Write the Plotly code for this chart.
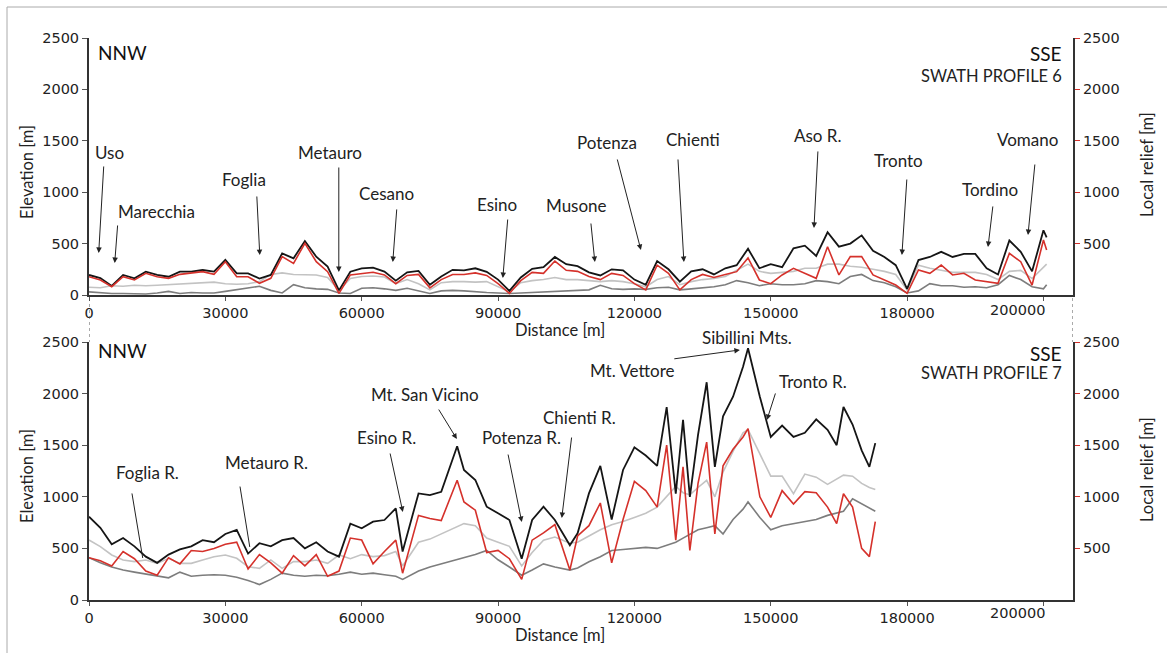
import plotly.graph_objects as go

# ---------------- Swath profile 6 (upper panel) ----------------
dist6 = [0, 2500, 5000, 7500, 10000, 12500, 15000, 17500, 20000, 22500,
         25000, 27500, 30000, 32500, 35000, 37500, 40000, 42500, 45000, 47500,
         50000, 52500, 55000, 57500, 60000, 62500, 65000, 67500, 70000,
         72500, 75000, 77500, 80000, 82500, 85000, 87500, 90000, 92500, 95000,
         97500, 100000, 102500, 105000, 107500, 110000, 112500, 115000, 117500, 120000,
         122500, 125000, 127500, 130000, 132500, 135000, 137500, 140000,
         142500, 145000, 147500, 150000, 152500, 155000, 157500, 160000, 162500, 165000,
         167500, 170000, 172500, 175000, 177500, 180000, 182500, 185000, 187500, 190000,
         192500, 195000, 197500, 200000, 202500, 205000, 207500, 210000, 210700]
max6 = [195, 165, 88, 195, 162, 227, 195, 178, 227, 227,
        243, 227, 341, 211, 211, 160, 195, 405, 357, 525,
        373, 276, 45, 227, 259, 266, 227, 140, 220,
        235, 100, 180, 245, 240, 260, 225, 150, 40, 170,
        255, 270, 370, 300, 280, 220, 190, 250, 240, 150,
        100, 330, 250, 130, 230, 250, 200, 260,
        290, 450, 260, 300, 270, 454, 480, 380, 610, 470,
        500, 580, 430, 370, 290, 60, 340, 370, 420, 370,
        400, 400, 260, 200, 530, 420, 230, 630, 560]
relief6 = [178, 146, 81, 178, 146, 211, 178, 162, 201, 211,
           227, 201, 324, 178, 178, 114, 162, 373, 308, 503,
           324, 227, 16, 195, 211, 221, 195, 110, 190,
           200, 70, 150, 200, 200, 215, 190, 110, 15, 140,
           220, 210, 330, 240, 230, 180, 150, 210, 190, 110,
           50, 290, 210, 50, 150, 200, 170, 200,
           227, 360, 146, 110, 195, 259, 211, 162, 470, 195,
           373, 373, 195, 146, 97, 16, 243, 211, 292, 195,
           211, 146, 130, 114, 405, 324, 97, 535, 438]
mean6 = [75, 70, 90, 85, 95, 90, 95, 100, 110, 115,
         120, 125, 110, 105, 110, 130, 200, 215, 200, 195,
         195, 170, 45, 160, 180, 185, 175, 110, 150,
         110, 50, 120, 130, 130, 125, 130, 80, 30, 120,
         140, 150, 170, 150, 150, 140, 130, 140, 130, 110,
         80, 150, 180, 100, 130, 150, 160, 180,
         240, 300, 230, 210, 220, 230, 260, 260, 300, 300,
         280, 270, 250, 230, 200, 50, 290, 260, 240, 220,
         220, 220, 200, 150, 230, 240, 160, 270, 300]
min6 = [30, 20, 15, 15, 10, 10, 20, 35, 15, 25,
        20, 20, 35, 50, 70, 85, 45, 20, 100, 70,
        60, 55, 20, 15, 65, 70, 60, 45, 65,
        40, 15, 40, 45, 40, 30, 25, 20, 15, 20,
        25, 30, 30, 35, 45, 50, 95, 60, 55, 60,
        55, 70, 75, 50, 60, 70, 80, 100,
        140, 120, 90, 110, 100, 100, 110, 140, 130, 110,
        180, 200, 140, 120, 80, 20, 40, 110, 90, 90,
        75, 80, 70, 100, 190, 150, 80, 60, 100]

# ---------------- Swath profile 7 (lower panel) ----------------
dist7 = [0, 2500, 5000, 7500, 10000, 12500, 15000, 17500, 20000, 22500,
         25000, 27500, 30000, 32500, 35000, 37500, 40000, 42500, 45000, 47500,
         50000, 52500, 55000, 57500, 60000, 62500, 65000, 67500,
         69000, 72500, 75000, 77500, 81000, 82500, 85000, 87500, 90000, 92500,
         95200, 97500, 100000, 102500, 105800, 107500, 110000, 112500,
         115000, 117500, 120000, 122500, 125000, 127100, 129100, 130700, 132200,
         134000, 135900, 137700, 139500, 141700, 143900, 145000, 147600,
         150000, 152500, 155000, 157500, 160000, 162500, 164500, 166000,
         168000, 170000, 171700, 173000]
max7 = [807, 700, 540, 600, 520, 420, 360, 440, 490, 520,
        580, 560, 640, 680, 450, 550, 520, 580, 600, 500,
        560, 470, 420, 740, 695, 759, 775, 888,
        470, 1033, 1017, 1049, 1490, 1260, 1163, 904, 840, 775,
        400, 775, 904, 775, 530, 646, 1033, 1300,
        780, 1260, 1480, 1400, 1300, 1870, 1030, 1745, 1000,
        1600, 2110, 1290, 1780, 1970, 2260, 2440, 1970,
        1580, 1690, 1580, 1620, 1750, 1650, 1500, 1870,
        1700, 1450, 1290, 1520]
relief7 = [410, 380, 330, 470, 400, 280, 240, 410, 350, 480,
           470, 500, 540, 560, 300, 440, 360, 260, 430, 330,
           440, 230, 280, 600, 581, 350, 470, 580,
           260, 820, 790, 770, 1160, 950, 870, 460, 480, 400,
           200, 580, 650, 730, 290, 620, 720, 940,
           360, 780, 1150, 1060, 900, 1500, 580, 1290, 480,
           1130, 1530, 640, 1300, 1460, 1580, 1660, 1000,
           800, 1060, 930, 1050, 1040, 900, 740, 1030,
           900, 500, 420, 760]
mean7 = [581, 517, 436, 388, 372, 388, 355, 404, 355, 355,
         388, 420, 436, 404, 323, 307, 388, 307, 372, 372,
         388, 355, 436, 400, 440, 420, 430, 470,
         330, 560, 590, 640, 710, 740, 720, 600, 560, 520,
         330, 460, 580, 610, 550, 560, 620, 680,
         730, 760, 800, 840, 900, 1000, 1100, 1040, 1020,
         1090, 1160, 1000, 1240, 1440, 1620, 1650, 1420,
         1200, 1200, 1030, 1220, 1190, 1120, 1170, 1210,
         1200, 1130, 1090, 1070]
min7 = [410, 360, 320, 290, 270, 250, 230, 215, 270, 230,
        240, 245, 240, 220, 190, 150, 200, 260, 240, 230,
        240, 235, 250, 270, 250, 260, 245, 230,
        200, 280, 320, 350, 390, 410, 440, 480, 390, 320,
        240, 290, 350, 320, 290, 310, 370, 420,
        480, 490, 500, 510, 500, 530, 560, 600, 640,
        680, 700, 720, 640, 780, 880, 950, 800,
        680, 720, 740, 760, 780, 820, 840, 860,
        980, 930, 890, 860]

# ---------------- Axis ticks ----------------
x_tick_vals = [0, 30000, 60000, 90000, 120000, 150000, 180000, 210000]
x_tick_text = ["0", "30000", "60000", "90000", "120000", "150000", "180000", ""]
end_tick_label = "200000"
end_tick_label_x = 204300
elev_ticks = [0, 500, 1000, 1500, 2000, 2500]
relief_ticks = [500, 1000, 1500, 2000, 2500]
x_max = 216500
y_max = 2500

# ---------------- Place names: (text, x_text, y_text, x_tail, y_tail, x_tip, y_tip, head) ----------------
names6 = [
    ("Uso", 4556, 1382, 3257, 1265, 2135, 409, 2),
    ("Marecchia", 14900, 817, 6317, 691, 5656, 311, 2),
    ("Foglia", 34050, 1119, 36910, 973, 37570, 389, 2),
    ("Metauro", 52980, 1391, 54960, 1255, 54960, 224, 2),
    ("Cesano", 65520, 983, 67730, 847, 66840, 321, 2),
    ("Esino", 89740, 885, 92150, 749, 91050, 165, 2),
    ("Musone", 107300, 866, 110400, 710, 111300, 321, 2),
    ("Potenza", 113950, 1479, 116150, 1333, 121430, 438, 2),
    ("Chienti", 132870, 1508, 129570, 1333, 130890, 321, 2),
    ("Aso R.", 160390, 1547, 160390, 1411, 159510, 652, 2),
    ("Tronto", 178200, 1304, 179960, 1138, 178860, 389, 2),
    ("Tordino", 198240, 1031, 198900, 876, 197800, 467, 2),
    ("Vomano", 206380, 1508, 208140, 1284, 206600, 584, 2),
]
names7 = [
    ("Foglia R.", 12920, 1240, 9400, 1047, 11820, 407, 0),
    ("Metauro R.", 39110, 1337, 33170, 1114, 35370, 514, 0),
    ("Esino R.", 65520, 1570, 66180, 1434, 69050, 853, 2),
    ("Mt. San Vicino", 73890, 1996, 76750, 1860, 80930, 1560, 2),
    ("Potenza R.", 95220, 1570, 92140, 1424, 95220, 756, 2),
    ("Chienti R.", 107980, 1764, 106220, 1589, 104020, 795, 2),
    ("Mt. Vettore", 119650, 2219, 128450, 2335, 143200, 2423, 2),
    ("Tronto R.", 159270, 2122, 151130, 2016, 149150, 1744, 2),
]
# label that sits above the top of the lower panel
peak_name = "Sibillini Mts."
peak_name_x = 144750

BLACK = "#151515"
RED = "#d5312b"
LIGHT = "#c3c3c3"
DARK = "#7d7d7d"
AXIS = "#333333"
TEXT = "#222222"
LABEL_FONT = dict(family="Lato", size=17, color=TEXT)
TICK_FONT = dict(family="DejaVu Sans", size=14.5, color=TEXT)

W, H = 1167, 653
x_dom = [89 / W, 1073 / W]
top_dom = [1 - 295 / H, 1 - 38 / H]
bot_dom = [1 - 600 / H, 1 - 342 / H]

fig = go.Figure()


def add_profile(xa, ya, yr, dist, mn, mean, mx, rel):
    fig.add_trace(go.Scatter(x=dist, y=mn, xaxis=xa, yaxis=ya, mode="lines",
                             line=dict(color=DARK, width=1.6), name="min"))
    fig.add_trace(go.Scatter(x=dist, y=mean, xaxis=xa, yaxis=ya, mode="lines",
                             line=dict(color=LIGHT, width=1.6), name="mean"))
    fig.add_trace(go.Scatter(x=dist, y=mx, xaxis=xa, yaxis=ya, mode="lines",
                             line=dict(color=BLACK, width=1.8), name="max"))
    fig.add_trace(go.Scatter(x=dist, y=rel, xaxis=xa, yaxis=yr, mode="lines",
                             line=dict(color=RED, width=1.6), name="relief"))


add_profile("x", "y", "y3", dist6, min6, mean6, max6, relief6)
add_profile("x2", "y2", "y4", dist7, min7, mean7, max7, relief7)


def x_axis(anchor):
    return dict(domain=x_dom, anchor=anchor, range=[0, x_max], showline=True,
                linecolor=AXIS, linewidth=2, ticks="outside", ticklen=4,
                tickcolor="#555", tickwidth=1, tickvals=x_tick_vals,
                ticktext=x_tick_text, tickfont=TICK_FONT, showgrid=False,
                zeroline=False, automargin=False)


def elev_axis(dom, anchor):
    return dict(domain=dom, anchor=anchor, range=[0, y_max], showline=True,
                linecolor=AXIS, linewidth=2, ticks="outside", ticklen=5,
                tickcolor="#555", tickwidth=1, tickvals=elev_ticks,
                tickfont=TICK_FONT, showgrid=False, zeroline=False,
                automargin=False)


def relief_axis(over, anchor):
    return dict(overlaying=over, anchor=anchor, side="right", range=[0, y_max],
                showline=True, linecolor=AXIS, linewidth=2, ticks="outside",
                ticklen=5, tickcolor=RED, tickwidth=1, tickvals=relief_ticks,
                tickfont=TICK_FONT, showgrid=False, zeroline=False,
                automargin=False)


fig.update_layout(
    autosize=True, margin=dict(l=0, r=0, t=0, b=0),
    paper_bgcolor="white", plot_bgcolor="white", showlegend=False,
    xaxis=x_axis("y"), yaxis=elev_axis(top_dom, "x"), yaxis3=relief_axis("y", "x"),
    xaxis2=x_axis("y2"), yaxis2=elev_axis(bot_dom, "x2"), yaxis4=relief_axis("y2", "x2"),
)


def text_at(x, y, xref, yref, text, font, xanchor="center", angle=0):
    fig.add_annotation(x=x, y=y, xref=xref, yref=yref, text=text, showarrow=False,
                       font=font, xanchor=xanchor, yanchor="middle",
                       textangle=angle)


def add_names(names, xref, yref):
    for text, xt, yt, xa, ya, xb, yb, head in names:
        text_at(xt, yt, xref, yref, text, LABEL_FONT)
        fig.add_annotation(x=xb, y=yb, ax=xa, ay=ya, xref=xref, yref=yref,
                           axref=xref, ayref=yref, text="", showarrow=True,
                           arrowhead=head, arrowsize=1.1, arrowwidth=1,
                           arrowcolor=TEXT, standoff=0)


add_names(names6, "x", "y")
add_names(names7, "x2", "y2")
text_at(peak_name_x, 1 - 337 / H, "x2", "paper", peak_name, LABEL_FONT)

# direction / profile titles
HEAD_FONT = dict(family="Lato", size=19, color="#111")
SUB_FONT = dict(family="Lato", size=16.5, color=TEXT)
for xr, yr, nnw_y, sse_y, sub_y, sub in [("x", "y", 2355, 2345, 2131, "SWATH PROFILE 6"),
                                        ("x2", "y2", 2413, 2393, 2200, "SWATH PROFILE 7")]:
    text_at(1500, nnw_y, xr, yr, "NNW", HEAD_FONT, xanchor="left")
    text_at(214600, sse_y, xr, yr, "SSE", HEAD_FONT, xanchor="right")
    text_at(214600, sub_y, xr, yr, sub, SUB_FONT, xanchor="right")

# last distance label sits left of its tick
for xr, py in [("x", 310), ("x2", 613)]:
    text_at(end_tick_label_x, 1 - py / H, xr, "paper", end_tick_label, TICK_FONT)

# axis titles
TITLE_FONT = dict(family="Lato", size=16.5, color=TEXT)
for py in [330, 635]:
    text_at(560 / W, 1 - py / H, "paper", "paper", "Distance [m]", TITLE_FONT)
for py in [172, 476]:
    text_at(27 / W, 1 - py / H, "paper", "paper", "Elevation [m]", TITLE_FONT, angle=-90)
for py in [165, 470]:
    text_at(1147 / W, 1 - py / H, "paper", "paper", "Local relief [m]", TITLE_FONT, angle=-90)

# dotted links between the two panels' vertical axes
for xv in [0, x_max]:
    fig.add_shape(type="line", xref="x", yref="paper", x0=xv, x1=xv,
                  y0=1 - 298 / H, y1=1 - 342 / H,
                  line=dict(color="#555", width=1, dash="dot"))

# thin frame on the top and left edges
fig.add_shape(type="line", xref="paper", yref="paper", x0=7 / W, x1=7 / W,
              y0=0, y1=1 - 7 / H, line=dict(color="#aaaaaa", width=1))
fig.add_shape(type="line", xref="paper", yref="paper", x0=7 / W, x1=1,
              y0=1 - 7 / H, y1=1 - 7 / H, line=dict(color="#aaaaaa", width=1))

# the graph div is pinned to the window's top-left corner at the full window size
fig.write_html("out.html",
               default_width=f"{W}px; position:fixed; left:0; top:0",
               default_height=f"{H}px",
               post_script="document.body.style.margin='0';")
